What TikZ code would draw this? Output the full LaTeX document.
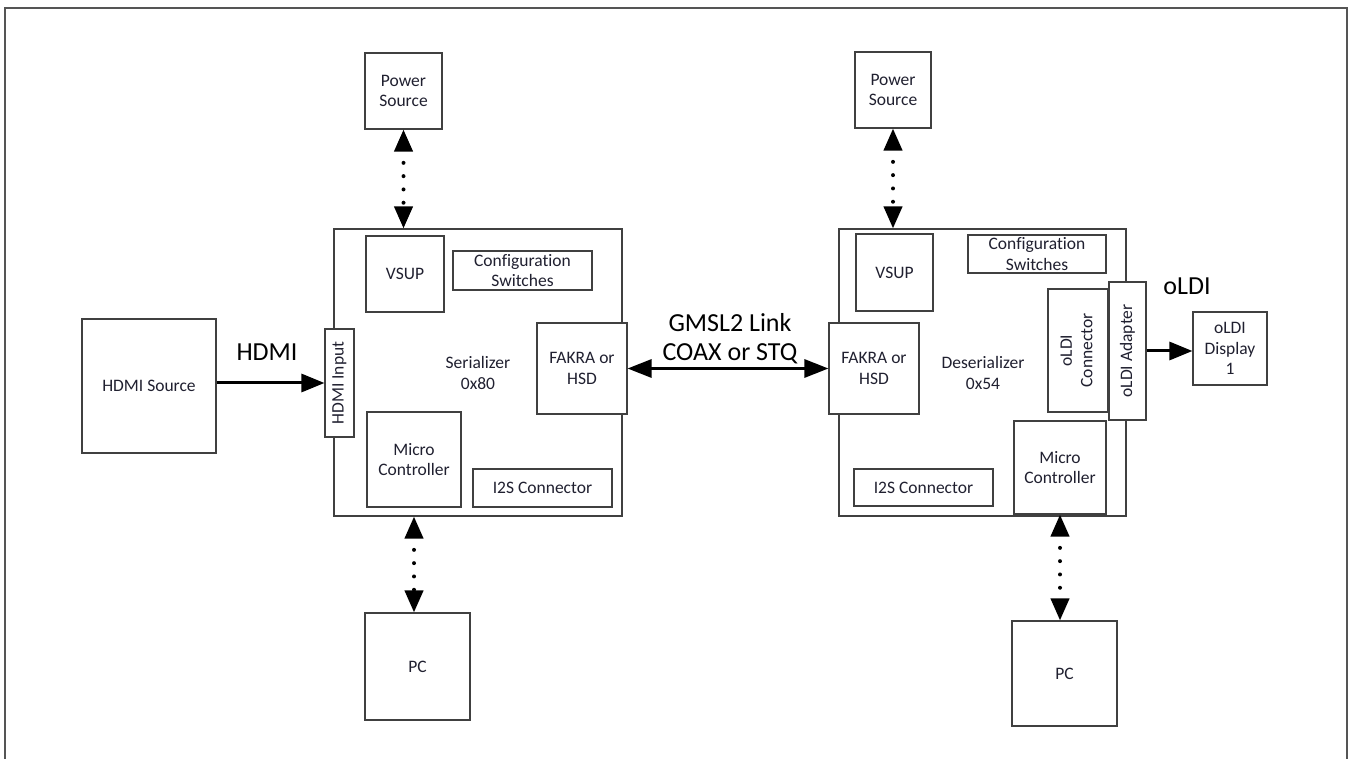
\documentclass[tikz,border=0pt]{standalone}
\usepackage{fontspec}
\setmainfont{Carlito}[Ligatures=NoCommon]
\usetikzlibrary{arrows.meta}
\definecolor{boxc}{HTML}{404040}
\definecolor{txt}{HTML}{202030}
\definecolor{framec}{HTML}{555555}
\newcommand\fsmall{\fontsize{17.5}{20.5}\selectfont}
\newcommand\flarge{\fontsize{26}{30}\selectfont}
\tikzset{
  bx/.style={draw=boxc, line width=1.1pt, fill=white, inner sep=1pt, align=center, font=\fsmall, text=txt},
  outer/.style={draw=boxc, line width=1.1pt, inner sep=0pt},
  lbl/.style={font=\fsmall, text=txt, align=center, inner sep=0pt},
  biglbl/.style={font=\flarge, text=black, align=center, inner sep=0pt},
  solidarrow/.style={line width=3pt, -{Triangle[length=23pt,width=18pt]}},
  gmslarrow/.style={line width=3pt, {Triangle[length=24pt,width=18pt]}-{Triangle[length=24pt,width=18pt]}},
  dotarrow/.style={line width=4pt, line cap=round, dash pattern=on 0pt off 13.3pt, dash phase=1pt,
    {Triangle[length=22pt,width=18pt]}-{Triangle[length=22pt,width=18pt]}}
}
\begin{document}
\begin{tikzpicture}[x=1pt,y=-1pt]
\useasboundingbox (0,0) rectangle (1350,759);
\fill[white] (0,0) rectangle (1350,759);
% frame (open at bottom)
\draw[framec, line width=1.6pt] (5,759) -- (5,8) -- (1347,8) -- (1347,759);

% ---------- Serializer side ----------
\node[outer, minimum width=288pt, minimum height=287pt] (ser) at (478,372.5) {};
\node[lbl] (serlbl) at (478,373) {Serializer\\0x80};
\node[bx, minimum width=134pt, minimum height=134pt] (src) at (149,386) {HDMI Source};
\node[bx, minimum width=29pt, minimum height=108pt] (hin) at (339.5,383) {\rotatebox{90}{HDMI Input}};
\node[bx, minimum width=78pt, minimum height=76pt] (vsupL) at (405,274) {VSUP};
\node[bx, minimum width=139pt, minimum height=39pt] (cfgL) at (522.5,270.5) {Configuration\\Switches};
\node[bx, minimum width=90pt, minimum height=91pt] (fakL) at (582,368.5) {FAKRA or\\HSD};
\node[bx, minimum width=94pt, minimum height=95pt] (mcL) at (414,459.5) {Micro\\Controller};
\node[bx, minimum width=139pt, minimum height=38pt] (i2sL) at (542.5,488) {I2S Connector};
\node[bx, minimum width=77pt, minimum height=76pt] (pwrL) at (403.5,91) {Power\\Source};
\node[bx, minimum width=105pt, minimum height=107pt] (pcL) at (417.5,666.5) {PC};

% ---------- Deserializer side ----------
\node[outer, minimum width=287pt, minimum height=287pt] (des) at (982.5,372.5) {};
\node[lbl] (deslbl) at (983,373) {Deserializer\\0x54};
\node[bx, minimum width=77pt, minimum height=77pt] (vsupR) at (894.5,272.5) {VSUP};
\node[bx, minimum width=138pt, minimum height=38pt] (cfgR) at (1037,254) {Configuration\\Switches};
\node[bx, minimum width=90pt, minimum height=91pt] (fakR) at (874,368.5) {FAKRA or\\HSD};
\node[bx, minimum width=60pt, minimum height=123pt] (ocon) at (1078,350.5) {\rotatebox{90}{\begin{tabular}{@{}c@{}}oLDI\\Connector\end{tabular}}};
\node[bx, minimum width=37pt, minimum height=138pt] (oadp) at (1127.5,351) {\rotatebox{90}{oLDI Adapter}};
\node[bx, minimum width=92pt, minimum height=93pt] (mcR) at (1060,467.5) {Micro\\Controller};
\node[bx, minimum width=139pt, minimum height=37pt] (i2sR) at (923.5,487.5) {I2S Connector};
\node[bx, minimum width=76pt, minimum height=76pt] (pwrR) at (893,90) {Power\\Source};
\node[bx, minimum width=105pt, minimum height=105pt] (pcR) at (1064.5,673.5) {PC};
\node[bx, minimum width=74pt, minimum height=73pt] (disp) at (1230,348.5) {oLDI\\Display\\1};

% ---------- big labels ----------
\node[biglbl] (hdmilbl) at (267,352) {HDMI};
\node[biglbl] (gmsl1) at (730,322.5) {GMSL2 Link};
\node[biglbl] (gmsl2) at (730,353.5) {COAX or STQ};
\node[biglbl] (oldilbl) at (1187,286) {oLDI};

% ---------- connectors ----------
\draw[solidarrow] (src.east |- hin.west) -- (hin.west);
\draw[gmslarrow] (fakL.east) -- (fakR.west);
\draw[solidarrow] (oadp.east) -- (oadp.east -| disp.west);
\draw[dotarrow] (pwrL.south) -- (pwrL.south |- ser.north);
\draw[dotarrow] (pwrR.south) -- (pwrR.south |- des.north);
\draw[dotarrow] (mcL.south |- ser.south) -- (mcL.south |- pcL.north);
\draw[dotarrow] (mcR.south) -- (mcR.south |- pcR.north);
\end{tikzpicture}
\end{document}
